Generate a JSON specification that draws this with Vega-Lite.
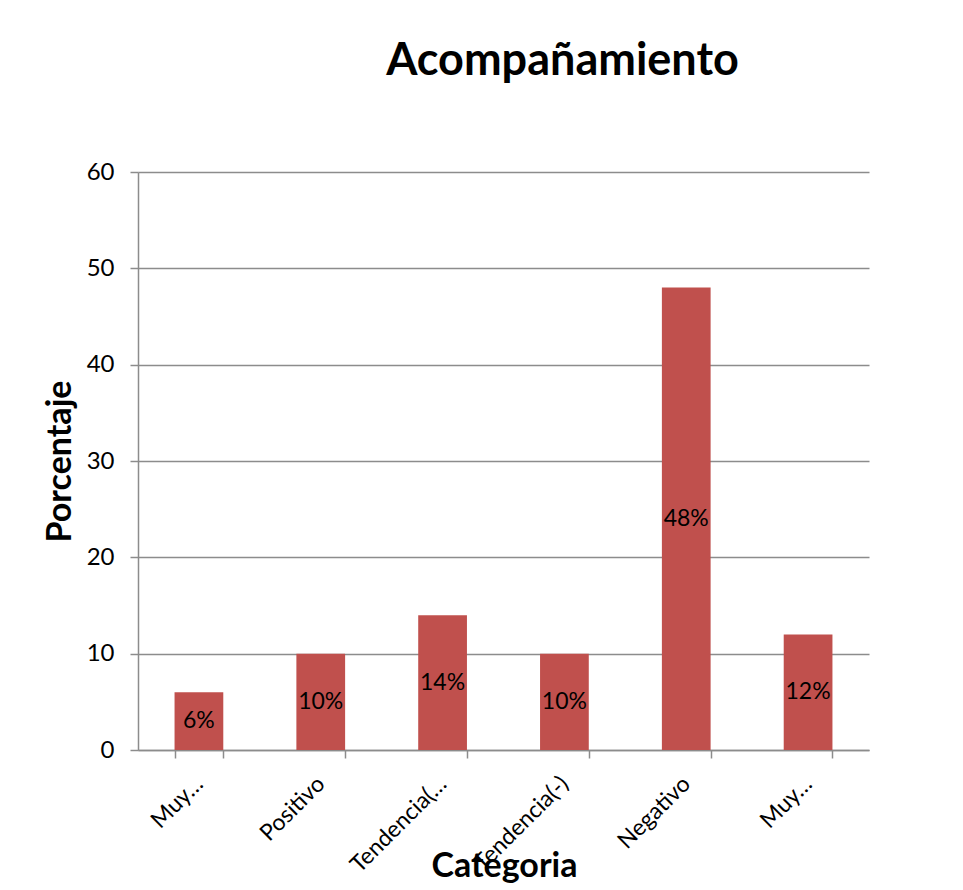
{
  "$schema": "https://vega.github.io/schema/vega-lite/v6.json",
  "width": 731,
  "height": 578,
  "autosize": {"type": "none"},
  "padding": {"left": 138, "top": 172, "right": 94, "bottom": 140},
  "background": "white",
  "config": {
    "font": "Lato",
    "view": {"stroke": null},
    "axis": {
      "labelFont": "Lato",
      "titleFont": "Lato",
      "labelColor": "black",
      "titleColor": "black",
      "titleFontWeight": "bold",
      "domainColor": "#8c8c8c",
      "domainWidth": 1.5,
      "tickColor": "#8c8c8c",
      "tickWidth": 1.5,
      "tickSize": 8,
      "gridColor": "#8c8c8c",
      "gridWidth": 1.5
    },
    "axisX": {
      "labelFontSize": 23,
      "titleFontSize": 34,
      "labelAngle": -45,
      "labelAlign": "right",
      "labelBaseline": "middle",
      "labelPadding": 22,
      "labelOffset": 0,
      "tickBand": "extent"
    },
    "axisY": {
      "labelFontSize": 24,
      "titleFontSize": 34,
      "labelPadding": 16
    }
  },
  "title": {
    "text": "Acompañamiento",
    "fontSize": 45,
    "fontWeight": "bold",
    "font": "Lato",
    "color": "black",
    "anchor": "middle",
    "dx": 59,
    "offset": 76
  },
  "data": {
    "values": [
      {"categoria": "Muy Positivo", "porcentaje": 6, "etiqueta": "6%"},
      {"categoria": "Positivo", "porcentaje": 10, "etiqueta": "10%"},
      {"categoria": "Tendencia(+)", "porcentaje": 14, "etiqueta": "14%"},
      {"categoria": "Tendencia(-)", "porcentaje": 10, "etiqueta": "10%"},
      {"categoria": "Negativo", "porcentaje": 48, "etiqueta": "48%"},
      {"categoria": "Muy Negativo", "porcentaje": 12, "etiqueta": "12%"}
    ]
  },
  "encoding": {
    "x": {
      "field": "categoria",
      "type": "nominal",
      "sort": null,
      "scale": {"paddingInner": 0.6, "paddingOuter": 0.3},
      "axis": {
        "title": "Categoria",
        "titleX": 366,
        "titleY": 116,
        "titleBaseline": "middle",
        "labelExpr": "datum.label == 'Muy Positivo' || datum.label == 'Muy Negativo' ? 'Muy…' : datum.label == 'Tendencia(+)' ? 'Tendencia(…' : datum.label"
      }
    }
  },
  "layer": [
    {
      "mark": {"type": "bar", "color": "#C0504D"},
      "encoding": {
        "y": {
          "field": "porcentaje",
          "type": "quantitative",
          "scale": {"domain": [0, 60], "nice": false},
          "axis": {
            "title": "Porcentaje",
            "titleX": -78,
            "titleY": 289,
            "titleAngle": -90,
            "titleAlign": "center",
            "titleBaseline": "middle",
            "values": [0, 10, 20, 30, 40, 50, 60],
            "grid": true
          }
        }
      }
    },
    {
      "mark": {"type": "text", "fontSize": 23, "color": "black", "baseline": "middle", "align": "center", "font": "Lato"},
      "encoding": {
        "y": {
          "field": "porcentaje",
          "type": "quantitative",
          "scale": {"domain": [0, 120], "nice": false},
          "axis": null
        },
        "text": {"field": "etiqueta", "type": "nominal"}
      }
    }
  ],
  "resolve": {"scale": {"y": "independent"}}
}
